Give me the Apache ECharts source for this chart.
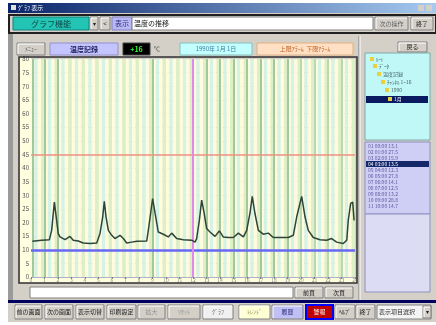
<!DOCTYPE html>
<html><head><meta charset="utf-8">
<script src="https://cdn.jsdelivr.net/npm/echarts@6/dist/echarts.min.js"></script>
<style>html,body{margin:0;padding:0;background:#fff}#c{width:436px;height:325px}</style>
</head><body><div id="c"></div>
<script>
// time of day (hours) and temperature readings
const hours = [0.1,0.79,1.36,1.53,1.73,2.02,2.15,2.52,2.89,3.13,3.5,3.87,4.37,4.87,5.11,5.31,5.43,5.56,5.73,5.98,6.22,6.59,6.84,7.09,7.46,7.83,8.57,8.69,8.89,9.01,9.19,9.43,9.8,10.17,10.42,10.79,11.28,11.9,12.15,12.27,12.47,12.64,12.81,13.01,13.26,13.63,13.95,14.24,14.61,14.99,15.36,15.73,15.98,16.22,16.39,16.59,16.84,17.21,17.58,17.95,18.44,19.06,19.43,19.68,20.05,20.3,20.54,20.91,21.41,21.9,22.27,22.64,23.13,23.39,23.5,23.68,23.83,23.93];
const temps = [13.1,13.5,13.7,17.1,27.5,15.9,14.7,13.7,14.9,13.5,13.2,12.5,12.3,12.5,16.0,22.0,27.8,22.0,17.1,15.3,14.1,15.3,14.1,12.5,12.8,13.1,13.2,17.1,24.4,28.8,23.4,16.5,15.7,14.7,16.1,14.1,13.7,13.5,12.8,14.1,20.8,28.2,23.9,17.8,16.5,14.9,16.9,14.7,14.5,14.5,16.1,14.7,17.1,23.4,29.6,23.3,17.1,15.7,16.1,14.5,14.5,14.5,15.3,22.0,29.6,22.0,17.1,14.5,13.7,13.5,14.1,12.8,12.3,13.5,20.8,27.0,27.5,20.8];
const upperLimit = 45;
const lowerLimit = 10;
const cursorHour = 12;
const markHoursDark = [0.15,1,2,9,13,14,15,16,17,18,19];
const markHoursLight = [20,21,22,23];
const yTicks = {min:0, max:80, interval:5};

const F = '"Noto Sans CJK JP","Noto Sans",sans-serif';
function box(x,y,w,h,fill,stroke,text,tc,fs,bold,z){
  const els=[{type:'rect',z:z||10,shape:{x:x,y:y,width:w,height:h},style:{fill:fill,stroke:stroke||null,lineWidth:1}}];
  if(text){els.push({type:'text',z:(z||10)+1,x:x+w/2,y:y+h/2,style:{text:text,fill:tc||'#202020',font:(bold?'bold ':'')+(fs||7)+'px '+F,align:'center',verticalAlign:'middle'}});}
  return els;
}
function btn(x,y,w,h,text,tc,fill){
  return [
    {type:'rect',z:10,shape:{x:x,y:y,width:w,height:h},style:{fill:fill||'#d4d0c8',stroke:'#808080',lineWidth:1}},
    {type:'line',z:11,shape:{x1:x+1,y1:y+1,x2:x+w-1,y2:y+1},style:{stroke:'#ffffff'}},
    {type:'line',z:11,shape:{x1:x+1,y1:y+1,x2:x+1,y2:y+h-1},style:{stroke:'#ffffff'}},
    {type:'text',z:12,x:x+w/2,y:y+h/2,style:{text:text,fill:tc||'#202020',font:'6px '+F,align:'center',verticalAlign:'middle'}}
  ];
}
let G=[];
// window background
G.push({type:'rect',z:-10,shape:{x:8,y:3,width:428,height:319},style:{fill:'#d4d0c8'}});
G.push({type:'rect',z:-9,shape:{x:8,y:33,width:5,height:268},style:{fill:'#9a9a9a'}});
// y label strip and x label strip
G.push({type:'rect',z:-5,shape:{x:20,y:58,width:11,height:225},style:{fill:'#ffffe0'}});
G.push({type:'rect',z:-5,shape:{x:20,y:277,width:337,height:6},style:{fill:'#ffffe0'}});
// title bar
G.push({type:'rect',z:10,shape:{x:8,y:3,width:428,height:10},style:{fill:new echarts.graphic.LinearGradient(0,0,1,0,[{offset:0,color:'#0a246a'},{offset:1,color:'#a6caf0'}])}});
G.push({type:'text',z:11,x:18,y:8,style:{text:'ｸﾞﾗﾌ 表示',fill:'#ffffff',font:'6px '+F,verticalAlign:'middle'}});
G.push({type:'rect',z:11,shape:{x:11,y:5,width:5,height:5},style:{fill:'#e0e0e0'}});
G.push({type:'rect',z:11,shape:{x:418,y:5,width:6,height:6},style:{fill:'#d4d0c8'}});
G.push({type:'rect',z:11,shape:{x:426,y:5,width:6,height:6},style:{fill:'#d4d0c8'}});
// toolbar
G.push({type:'rect',z:9,shape:{x:9,y:15,width:427,height:18},style:{fill:'#d4d0c8',stroke:'#202020',lineWidth:2}});
G=G.concat(box(13,17,76,13,'#22c4b4','#108080','グラフ機能','#104848',8));
G=G.concat(btn(90,17,8,13,'▾'));
G=G.concat(btn(100,17,10,13,'<'));
G=G.concat(box(112,17,20,13,'#b8b8f4','#8080c0','表示','#303080',7));
G.push({type:'rect',z:10,shape:{x:132,y:17,width:241,height:13},style:{fill:'#ffffff',stroke:'#808080'}});
G.push({type:'text',z:11,x:134,y:23.5,style:{text:'温度の推移',fill:'#202020',font:'7px '+F,verticalAlign:'middle'}});
G=G.concat(btn(375,17,33,13,'次の操作','#606060'));
G=G.concat(btn(411,17,22,13,'終了'));
// second row
G=G.concat(btn(17,43,28,12,'ﾒﾆｭｰ','#606060'));
G=G.concat(box(50,43,68,12,'#c4c4ff','#9090d0','温度記録','#202060',7,true));
G=G.concat(box(123,43,27,12,'#000000','#404040','+16','#30ff30',7,true));
G.push({type:'text',z:11,x:154,y:46,style:{text:'℃',fill:'#404040',font:'6px '+F}});
G=G.concat(box(180,43,72,12,'#c4ffff','#80c0c0','1990年 1月 1日','#4080a0',6));
G=G.concat(box(257,43,96,12,'#ffe0c4','#e0b080','上限ｱﾗｰﾑ  下限ｱﾗｰﾑ','#c06020',6));
// right panel
G.push({type:'line',z:10,shape:{x1:359,y1:36,x2:359,y2:300},style:{stroke:'#808080'}});
G.push({type:'line',z:10,shape:{x1:360,y1:36,x2:360,y2:300},style:{stroke:'#ffffff'}});
G=G.concat(btn(398,42,29,10,'戻る'));
G.push({type:'rect',z:10,shape:{x:365,y:53,width:65,height:87},style:{fill:'#c0f8f8',stroke:'#80a8a8'}});
const tree=[[370,59,'ﾙｰﾄ'],[373,66,'ﾃﾞｰﾀ'],[377,74,'温度記録'],[381,82,'ﾁｬﾝﾈﾙ 1ｰ16'],[385,90,'1990'],[388,99,'1月']];
tree.forEach((t,i)=>{
  if(i===5){G.push({type:'rect',z:10,shape:{x:366,y:96,width:62,height:7},style:{fill:'#0a1a60'}});}
  G.push({type:'rect',z:11,shape:{x:t[0],y:t[1]-2,width:4,height:4},style:{fill:'#e8d040'}});
  G.push({type:'text',z:11,x:t[0]+6,y:t[1],style:{text:t[2],fill:i===5?'#ffffff':'#406060',font:'5px '+F,verticalAlign:'middle'}});
});
G.push({type:'rect',z:10,shape:{x:365,y:142,width:65,height:72},style:{fill:'#cfcff6',stroke:'#9090c0'}});
G.push({type:'rect',z:10,shape:{x:365,y:214,width:65,height:78},style:{fill:'#dcdcf4',stroke:'#9090c0'}});
const rows=['01 00:00 13.1','02 01:00 27.5','03 02:00 15.9','04 03:00 13.5','05 04:00 12.3','06 05:00 27.8','07 06:00 14.1','08 07:00 12.5','09 08:00 13.2','10 09:00 28.8','11 10:00 14.7'];
rows.forEach((r,i)=>{
  const y=146+i*6;
  if(i===3){G.push({type:'rect',z:10,shape:{x:366,y:y-3,width:63,height:6},style:{fill:'#14286a'}});}
  G.push({type:'text',z:11,x:368,y:y,style:{text:r,fill:i===3?'#ffffff':'#5858a0',font:'5px '+F,verticalAlign:'middle'}});
});
// plot frame
G.push({type:'rect',z:20,shape:{x:19,y:57,width:338,height:226},style:{fill:null,stroke:'#303030',lineWidth:1.5}});
// bottom of main area
G.push({type:'rect',z:10,shape:{x:30,y:287,width:263,height:11},style:{fill:'#ffffff',stroke:'#808080'}});
G=G.concat(btn(295,287,28,11,'前頁'));
G=G.concat(btn(325,287,28,11,'次頁'));
G.push({type:'rect',z:10,shape:{x:8,y:300,width:428,height:3},style:{fill:'#000060'}});
// bottom buttons
G=G.concat(btn(15,305,27,14,'前の画面'));
G=G.concat(btn(45,305,28,14,'次の画面'));
G=G.concat(btn(76,305,28,14,'表示切替'));
G=G.concat(btn(107,305,29,14,'印刷設定'));
G=G.concat(btn(138,305,27,14,'拡大','#909090'));
G=G.concat(btn(168,305,32,14,'ﾘｾｯﾄ','#909090'));
G=G.concat(btn(203,305,30,14,'ｸﾞﾗﾌ','#707070','#f0f0f0'));
G=G.concat(btn(239,305,31,14,'ﾄﾚﾝﾄﾞ','#909060','#ffffd4'));
G=G.concat(btn(272,305,31,14,'履歴','#303080','#c0c0f4'));
G.push({type:'rect',z:10,shape:{x:306,y:305,width:27,height:14},style:{fill:'#c00000',stroke:'#0000ff',lineWidth:2}});
G.push({type:'text',z:11,x:319.5,y:312,style:{text:'警報',fill:'#ffffff',font:'6px '+F,align:'center',verticalAlign:'middle'}});
G=G.concat(btn(335,305,20,14,'ﾍﾙﾌﾟ'));
G=G.concat(btn(356,305,19,14,'終了'));
G.push({type:'rect',z:10,shape:{x:377,y:305,width:54,height:14},style:{fill:'#f4f4f4',stroke:'#808080'}});
G.push({type:'text',z:11,x:379,y:312,style:{text:'表示項目選択',fill:'#303030',font:'6px '+F,verticalAlign:'middle'}});
G=G.concat(btn(423,306,8,12,'▾'));

const chart = echarts.init(document.getElementById('c'), null, {renderer:'canvas'});
chart.setOption({
  animation:false,
  backgroundColor:'#ffffff',
  graphic:{elements:G},
  grid:{left:31,right:81,top:59,bottom:48,show:true,backgroundColor:'#fffbdc',borderWidth:0},
  xAxis:[
    {type:'value',min:0,max:24,interval:1,
     axisLine:{show:false},axisTick:{show:true,length:2,lineStyle:{color:'#808080'}},
     axisLabel:{fontSize:5,color:'#8a8a8a',margin:1,fontFamily:F},
     splitLine:{show:true,lineStyle:{color:'#bcdcb8',width:1}}},
    {type:'value',min:0,max:24,interval:0.25,position:'top',
     axisLine:{show:false},axisTick:{show:false},axisLabel:{show:false},
     splitLine:{show:false},
     splitArea:{show:true,areaStyle:{color:['#fffbdc','#d4f2e6','#fffbdc','#dcefc6']}}}
  ],
  yAxis:{type:'value',min:yTicks.min,max:yTicks.max,interval:yTicks.interval,
     axisLine:{show:false},axisTick:{show:false},
     axisLabel:{fontSize:6,color:'#505050',margin:2,fontFamily:F},
     splitLine:{show:true,lineStyle:{color:'#adb2c4',width:1}}},
  series:[
    {type:'line',xAxisIndex:0,data:[],silent:true,
     markLine:{silent:true,symbol:['none','none'],label:{show:false},
       data:markHoursDark.map(h=>({xAxis:h,lineStyle:{color:'#a2c89e',width:2,type:'solid'}}))
         .concat(markHoursLight.map(h=>({xAxis:h,lineStyle:{color:'#b8d8b4',width:2,type:'solid'}})))}},
    {type:'line',xAxisIndex:0,data:[],silent:true,
     markLine:{silent:true,symbol:['none','none'],label:{show:false},
       data:[
         {yAxis:upperLimit,lineStyle:{color:'#f09080',width:1.5,type:'solid'}},
         {yAxis:lowerLimit,lineStyle:{color:'#6868f4',width:2.5,type:'solid'}},
         {xAxis:cursorHour,lineStyle:{color:'#e088ee',width:2,type:'solid'}}
       ]}},
    {type:'line',xAxisIndex:0,showSymbol:false,symbol:'none',silent:true,
     data:hours.map((h,i)=>[h,temps[i]]),
     lineStyle:{color:'#2e4436',width:1.5},z:5}
  ]
});
</script></body></html>
